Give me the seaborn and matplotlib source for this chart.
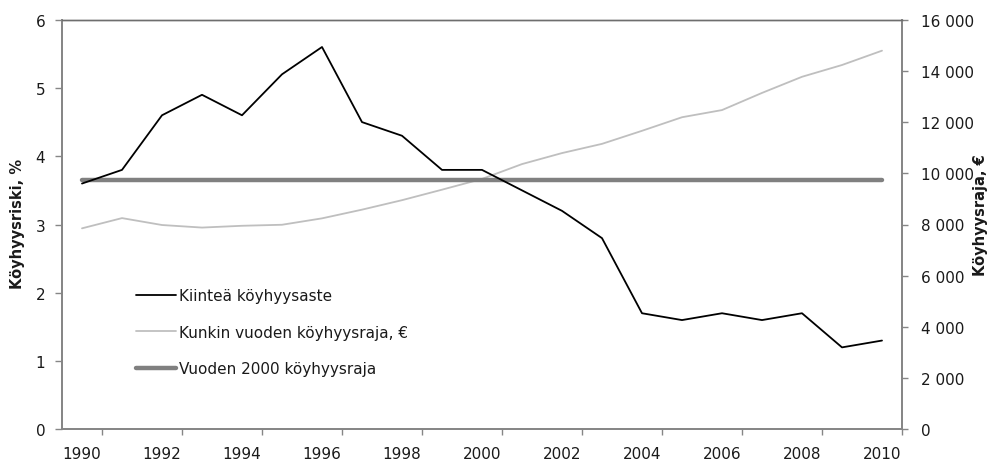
import pandas as pd
import seaborn as sns
import matplotlib.pyplot as plt
from matplotlib.ticker import FuncFormatter, MultipleLocator, FixedLocator
from matplotlib.lines import Line2D

years = list(range(1990, 2011))
kiintea = [3.6, 3.8, 4.6, 4.9, 4.6, 5.2, 5.6, 4.5, 4.3, 3.8, 3.8,
           3.5, 3.2, 2.8, 1.7, 1.6, 1.7, 1.6, 1.7, 1.2, 1.3]
raja = [7850, 8250, 7980, 7880, 7950, 7990, 8240, 8580, 8950, 9360, 9780,
        10360, 10790, 11150, 11660, 12190, 12470, 13140, 13770, 14230, 14790]
raja_2000 = 9730

labels = ["Kiinteä köyhyysaste", "Kunkin vuoden köyhyysraja, €", "Vuoden 2000 köyhyysraja"]

df = pd.DataFrame({"vuosi": years, "kiintea": kiintea, "raja": raja})
df["raja_2000"] = raja_2000

sns.set_style("white")
plt.rcParams["font.family"] = ["DejaVu Sans"]
spine_col = "#868686"
txt_col = "#1a1a1a"

fig = plt.figure(figsize=(9.88, 4.64), dpi=100)
ax = fig.add_axes([62 / 988, 1 - 430.3 / 464, 840 / 988, 409.6 / 464])
ax2 = ax.twinx()

sns.lineplot(data=df, x="vuosi", y="raja", ax=ax2, color="#bfbfbf", lw=1.3)
sns.lineplot(data=df, x="vuosi", y="raja_2000", ax=ax2, color="#808080", lw=3.2)
sns.lineplot(data=df, x="vuosi", y="kiintea", ax=ax, color="black", lw=1.3)

ax.set_zorder(ax2.get_zorder() + 1)
ax.patch.set_visible(False)

ax.set_xlim(1989.5, 2010.5)
ax.set_ylim(0, 6)
ax2.set_ylim(0, 16000)
ax.set_xticks(years[::2])
ax.xaxis.set_minor_locator(FixedLocator([y + 0.5 for y in years[::2]]))
ax.yaxis.set_major_locator(MultipleLocator(1))
ax2.yaxis.set_major_locator(MultipleLocator(2000))
ax2.yaxis.set_major_formatter(FuncFormatter(lambda v, p: f"{v:,.0f}".replace(",", " ")))

ax.tick_params(axis="x", which="major", length=0, pad=12, labelsize=11, colors=txt_col)
ax.tick_params(axis="x", which="minor", length=4.5, width=1, color=spine_col, direction="out", bottom=True)
ax.tick_params(axis="y", length=5, width=1, color=spine_col, direction="out", pad=7, labelsize=11,
               labelcolor=txt_col, left=True)
ax2.tick_params(axis="y", length=4, width=1, color=spine_col, direction="out", pad=10, labelsize=11,
                labelcolor=txt_col, right=True)

for a in (ax, ax2):
    for s in a.spines.values():
        s.set_color(spine_col)
        s.set_linewidth(1.3)
    a.spines["top"].set_color("#6e6e6e")
    a.spines["top"].set_linewidth(1)

ax.set_xlabel("")
ax.set_ylabel("Köyhyysriski, %", fontsize=10.5, fontweight="bold", color=txt_col)
ax2.set_ylabel("Köyhyysraja, €", fontsize=10.5, fontweight="bold", color=txt_col)
ax.yaxis.set_label_coords(-0.0445, 0.505)
ax2.yaxis.set_label_coords(1.0845, 0.525)

handles = [Line2D([], [], color="black", lw=1.3),
           Line2D([], [], color="#bfbfbf", lw=1.3),
           Line2D([], [], color="#808080", lw=3.2)]
leg = ax.legend(handles, labels, loc="upper left", bbox_to_anchor=(136 / 988, 1 - 289 / 464),
                bbox_transform=fig.transFigure, frameon=False, fontsize=11, borderpad=0,
                borderaxespad=0, handlelength=2.6, handletextpad=0.2, labelspacing=1.42)
for t in leg.get_texts():
    t.set_color(txt_col)

plt.savefig("out.png", dpi=100)
